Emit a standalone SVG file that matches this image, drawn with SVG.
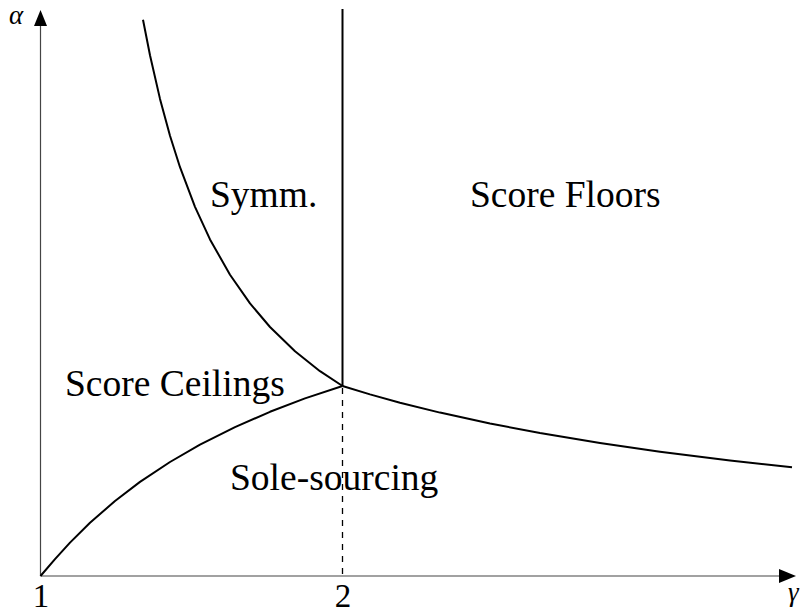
<svg xmlns="http://www.w3.org/2000/svg" width="802" height="615" viewBox="0 0 802 615">
  <style>
    .axis { stroke: #444; stroke-width: 1.2; fill: none; }
    .curve { stroke: #000; stroke-width: 2; fill: none; stroke-linejoin: round; stroke-linecap: butt; }
    .dash { stroke: #000; stroke-width: 1.3; fill: none; stroke-dasharray: 6 6; }
    .head { fill: #000; stroke: none; }
    text { font-family: 'Liberation Serif', 'Times New Roman', 'DejaVu Serif', serif; fill: #000; }
    .lbl { font-size: 37.5px; }
    .num { font-size: 33px; text-anchor: middle; }
    .greek { font-size: 27px; font-style: italic; }
  </style>
  <rect width="802" height="615" fill="#fff"/>
  <g id="axes">
    <line class="axis" x1="40.5" y1="576" x2="40.5" y2="25"/>
    <polygon class="head" points="40.5,10 34,26 47,26"/>
    <line class="axis" x1="40.5" y1="576" x2="780" y2="576"/>
    <polygon class="head" points="796,576 779,569 779,583"/>
    <text class="greek" x="9" y="24">α</text>
    <text class="greek" x="788" y="601">γ</text>
    <text class="num" x="41" y="607">1</text>
    <text class="num" x="343" y="607">2</text>
  </g>
  <g id="connectors">
    <polyline id="upper-curve" class="curve" points="143,19.8 150,55.3 160,98.9 170,135.8 180,167.2 195,206.8 210,239.4 230,274.8 250,303.4 270,327 295,351.3 320,371.2 342.5,386"/>
    <polyline id="lower-curve" class="curve" points="40.5,576 55,559.1 70,542.6 90,522.8 115,501 140,481.9 170,462 200,444.7 235,427.1 270,411.8 305,398.4 342.5,386"/>
    <polyline id="right-curve" class="curve" points="342.5,386 370,394.4 400,402.7 440,412.6 490,423.5 540,433 600,443 660,451.7 730,460.5 792,467.3"/>
    <line id="vertical" class="curve" x1="342.5" y1="9" x2="342.5" y2="386"/>
    <line id="dashed" class="dash" x1="342.5" y1="388" x2="342.5" y2="576"/>
  </g>
  <g id="region-symm"><text class="lbl" x="210" y="207">Symm.</text></g>
  <g id="region-floors"><text class="lbl" x="470" y="207">Score Floors</text></g>
  <g id="region-ceilings"><text class="lbl" x="65" y="396">Score Ceilings</text></g>
  <g id="region-sole"><text class="lbl" x="230" y="490">Sole-sourcing</text></g>
</svg>
